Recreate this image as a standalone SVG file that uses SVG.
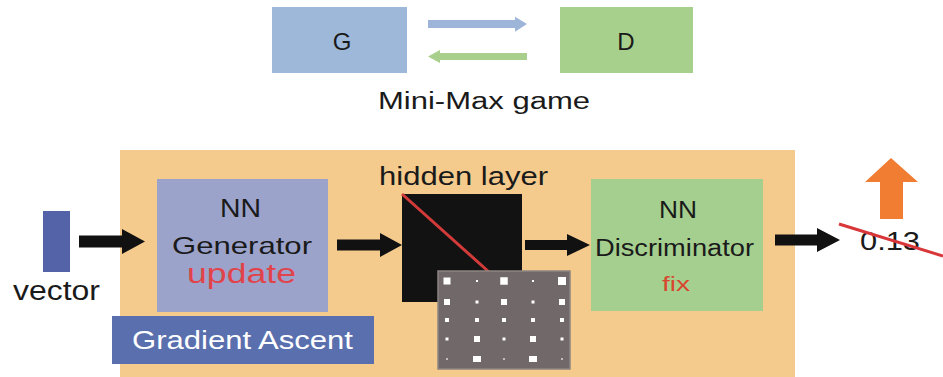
<svg xmlns="http://www.w3.org/2000/svg" width="943" height="377" viewBox="0 0 943 377">
  <style>
    text { font-family: "Liberation Sans", Arial, sans-serif; }
    .dark { fill: #1a1a1a; }
    .arrow { fill: #111111; }
    .dot { fill: #ffffff; }
  </style>
  <rect width="943" height="377" fill="#ffffff"/>

  <!-- Mini-Max game: G and D exchanging -->
  <g id="node-G">
    <rect x="272" y="7" width="135" height="66" fill="#9EB8D9"/>
    <text x="342" y="50" font-size="24" text-anchor="middle" class="dark">G</text>
  </g>
  <g id="node-D">
    <rect x="560" y="7" width="133" height="66" fill="#A8D08D"/>
    <text x="626" y="50" font-size="24" text-anchor="middle" class="dark">D</text>
  </g>
  <g id="label-minimax">
    <text x="378" y="109" font-size="23" textLength="212" lengthAdjust="spacingAndGlyphs" class="dark">Mini-Max game</text>
  </g>

  <!-- pipeline background -->
  <g id="node-pipeline">
    <rect x="120" y="150" width="675" height="227" fill="#F5CB8D"/>
  </g>

  <g id="node-vector">
    <rect x="43" y="211" width="27" height="61" fill="#5463A8"/>
    <text x="13" y="300" font-size="27" textLength="87" lengthAdjust="spacingAndGlyphs" class="dark">vector</text>
  </g>

  <g id="node-generator">
    <rect x="157" y="179" width="171" height="133" fill="#9CA3CB"/>
    <text x="220" y="217" font-size="25" textLength="41" lengthAdjust="spacingAndGlyphs" class="dark">NN</text>
    <text x="172" y="254" font-size="24" textLength="140" lengthAdjust="spacingAndGlyphs" class="dark">Generator</text>
    <text x="187" y="283" font-size="27" textLength="109" lengthAdjust="spacingAndGlyphs" fill="#E0444A">update</text>
  </g>

  <g id="node-gradient">
    <rect x="112" y="316" width="262" height="48" fill="#5A6FAE"/>
    <text x="132" y="349" font-size="26" textLength="221" lengthAdjust="spacingAndGlyphs" fill="#ffffff">Gradient Ascent</text>
  </g>

  <g id="node-hidden">
    <text x="379" y="185" font-size="25" textLength="169" lengthAdjust="spacingAndGlyphs" class="dark">hidden layer</text>
    <rect x="402" y="194" width="120" height="108" fill="#121212"/>
    <line x1="402" y1="194" x2="489" y2="272" stroke="#D33A3A" stroke-width="3"/>
    <rect x="438" y="271" width="132" height="98" fill="#716969" stroke="#8C8581" stroke-width="1.5"/>
    <g id="hidden-cells">
      <rect class="dot" x="443.5" y="277.5" width="7" height="7"/>
      <rect class="dot" x="476" y="280" width="2" height="2"/>
      <rect class="dot" x="500.25" y="277.25" width="7.5" height="7.5"/>
      <rect class="dot" x="532" y="280" width="2" height="2"/>
      <rect class="dot" x="558" y="277" width="8" height="8"/>

      <rect class="dot" x="444" y="299" width="6" height="6"/>
      <rect class="dot" x="475.5" y="300.5" width="3" height="3"/>
      <rect class="dot" x="501" y="299" width="6" height="6"/>
      <rect class="dot" x="531.5" y="300.5" width="3" height="3"/>
      <rect class="dot" x="559" y="299" width="6" height="6"/>

      <rect class="dot" x="445" y="318" width="4" height="4"/>
      <rect class="dot" x="475" y="318" width="4" height="4"/>
      <rect class="dot" x="502" y="318" width="4" height="4"/>
      <rect class="dot" x="531" y="318" width="4" height="4"/>
      <rect class="dot" x="560" y="318" width="4" height="4"/>

      <rect class="dot" x="445.5" y="337.5" width="3" height="3"/>
      <rect class="dot" x="474" y="336" width="6" height="6"/>
      <rect class="dot" x="502.5" y="337.5" width="3" height="3"/>
      <rect class="dot" x="530" y="336" width="6" height="6"/>
      <rect class="dot" x="560.5" y="337.5" width="3" height="3"/>

      <rect class="dot" x="446.25" y="358.25" width="1.5" height="1.5"/>
      <rect class="dot" x="473" y="356" width="8" height="6"/>
      <rect class="dot" x="503.25" y="358.25" width="1.5" height="1.5"/>
      <rect class="dot" x="529" y="356" width="8" height="6"/>
      <rect class="dot" x="561.25" y="358.25" width="1.5" height="1.5"/>
    </g>
  </g>

  <g id="node-discriminator">
    <rect x="591" y="179" width="172" height="132" fill="#A5CF8F"/>
    <text x="659" y="218" font-size="23" textLength="38" lengthAdjust="spacingAndGlyphs" class="dark">NN</text>
    <text x="595" y="256" font-size="23" textLength="159" lengthAdjust="spacingAndGlyphs" class="dark">Discriminator</text>
    <text x="662" y="291" font-size="21" textLength="28" lengthAdjust="spacingAndGlyphs" fill="#D8462E">fix</text>
  </g>

  <g id="node-output">
    <polygon points="891,158 918,182 903,182 903,219 880,219 880,182 865,182" fill="#F07D32"/>
    <text x="860" y="250" font-size="25" textLength="60" lengthAdjust="spacingAndGlyphs" class="dark">0.13</text>
    <line x1="839" y1="224" x2="943" y2="256" stroke="#D9363A" stroke-width="3"/>
  </g>

  <g id="connectors">
    <!-- G to D -->
    <polygon points="428,20 515,20 515,16.7 527,24 515,31.7 515,28 428,28" fill="#9DB5D8"/>
    <!-- D to G -->
    <polygon points="527,53 440,53 440,50 428,56.5 440,63 440,60 527,60" fill="#A8CF8C"/>
    <!-- vector to generator -->
    <polygon class="arrow" points="79,235.5 122,235.5 122,229 145,241.5 122,254 122,247.5 79,247.5"/>
    <!-- generator to hidden layer -->
    <polygon class="arrow" points="337,239.5 380,239.5 380,233 402,245 380,257 380,250.5 337,250.5"/>
    <!-- hidden layer to discriminator -->
    <polygon class="arrow" points="525,240 567,240 567,234 590,245 567,256 567,250 525,250"/>
    <!-- discriminator to score -->
    <polygon class="arrow" points="775,234.5 817,234.5 817,228 840,240 817,252 817,245.5 775,245.5"/>
  </g>
</svg>
